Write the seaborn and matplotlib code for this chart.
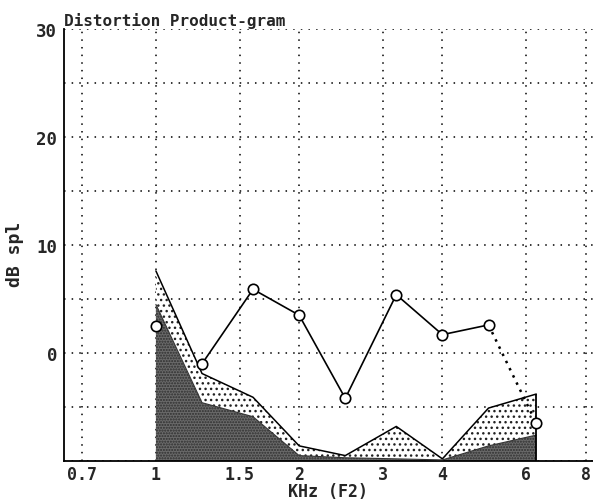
import matplotlib
matplotlib.use("Agg")
import matplotlib.pyplot as plt
import seaborn as sns
import pandas as pd
from matplotlib.ticker import FixedLocator, NullLocator, NullFormatter

# ---- data ----
freqs = [1.0, 1.25, 1.6, 2.0, 2.5, 3.2, 4.0, 5.0, 6.3]
dp_level = [2.5, -1.0, 5.9, 3.5, -4.2, 5.4, 1.7, 2.6, -6.5]
noise_upper = [7.6, -1.9, -4.1, -8.6, -9.5, -6.8, -9.8, -5.1, -3.8]
noise_lower = [4.5, -4.6, -5.9, -9.5, -9.7, -9.8, -9.9, -8.6, -7.6]
x_ticks = [0.7, 1, 1.5, 2, 3, 4, 6, 8]
x_tick_labels = ["0.7", "1", "1.5", "2", "3", "4", "6", "8"]
y_ticks = [-10, 0, 10, 20, 30]
y_tick_labels = ["", "0", "10", "20", "30"]
y_grid = [-10, -5, 0, 5, 10, 15, 20, 25, 30]

sns.set_style("white")
plt.rcParams["font.family"] = ["DejaVu Sans Mono", "DejaVu Sans"]
plt.rcParams["hatch.linewidth"] = 1.0

W, H = 593, 502
ax_left, ax_right, ax_top, ax_bottom = 64, 593, 30, 462
fig = plt.figure(figsize=(W / 100, H / 100), dpi=100)
ax = fig.add_axes([ax_left / W, 1 - ax_bottom / H, (ax_right - ax_left) / W,
                   (ax_bottom - ax_top) / H])
ax.set_xscale("log")
ax.set_xlim(0.641, 8.29)
ax.set_ylim(-10, 30)

# grid
for gx in x_ticks:
    ax.axvline(gx, color="black", lw=1.1, ls=(0, (1, 4)), zorder=1)
for gy in y_grid:
    ax.axhline(gy, color="black", lw=1.1, ls=(0, (1, 4)), zorder=1)

# noise floor fills
ax.fill_between(freqs, -10, noise_lower, facecolor="#6a6a6a", edgecolor="#2e2e2e",
                hatch="......", lw=0, zorder=2)
ax.fill_between(freqs, noise_lower, noise_upper, facecolor="white", edgecolor="#222222",
                hatch="...", lw=0, zorder=2)
ax.plot(freqs, noise_upper, color="black", lw=1.1, zorder=3)
ax.plot(freqs, noise_lower, color="#333333", lw=0.8, zorder=3)
ax.vlines(freqs[-1], -10, noise_upper[-1], color="black", lw=1.3, zorder=3)

# DP line
df = pd.DataFrame({"f": freqs, "dp": dp_level})
solid = df.iloc[1:8]
dotted = df.iloc[7:9]
sns.lineplot(data=solid, x="f", y="dp", color="black", lw=1.2, ax=ax, zorder=4,
             estimator=None, sort=False)
sns.lineplot(data=dotted, x="f", y="dp", color="black", lw=1.8, ax=ax, zorder=4,
             estimator=None, sort=False, linestyle=(0, (1, 2.2)))
ax.plot(df["f"], df["dp"], ls="none", marker="o", ms=7.5, mfc="white", mec="black",
        mew=1.2, zorder=5)

# axes
ax.xaxis.set_major_locator(FixedLocator(x_ticks))
ax.set_xticklabels(x_tick_labels)
ax.xaxis.set_minor_locator(NullLocator())
ax.xaxis.set_minor_formatter(NullFormatter())
ax.set_yticks(y_ticks)
ax.set_yticklabels(y_tick_labels)
ax.tick_params(axis="y", which="major", length=4, width=1, color="black",
               labelsize=12.5, direction="out", pad=1)
ax.tick_params(axis="x", which="major", length=3, width=1, color="black",
               labelsize=12, direction="out", pad=0)
for lab in ax.get_xticklabels() + ax.get_yticklabels():
    lab.set_fontweight("bold")
for s in ["top", "right"]:
    ax.spines[s].set_visible(False)
ax.spines["left"].set_color("black")
ax.spines["left"].set_linewidth(1.3)
ax.spines["bottom"].set_color("black")
ax.spines["bottom"].set_linewidth(1.3)

ax.set_xlabel("KHz (F2)", fontsize=12, fontweight="bold", va="bottom")
ax.xaxis.set_label_coords(0.5, -(H - 1 - ax_bottom) / (ax_bottom - ax_top))
ax.set_ylabel("dB spl", fontsize=13, fontweight="bold", va="center")
ax.yaxis.set_label_coords(-0.093, 0.48)
ax.set_title("Distortion Product-gram", fontsize=11.5, fontweight="bold",
             loc="left", pad=3)

fig.savefig("out.png", dpi=100)
